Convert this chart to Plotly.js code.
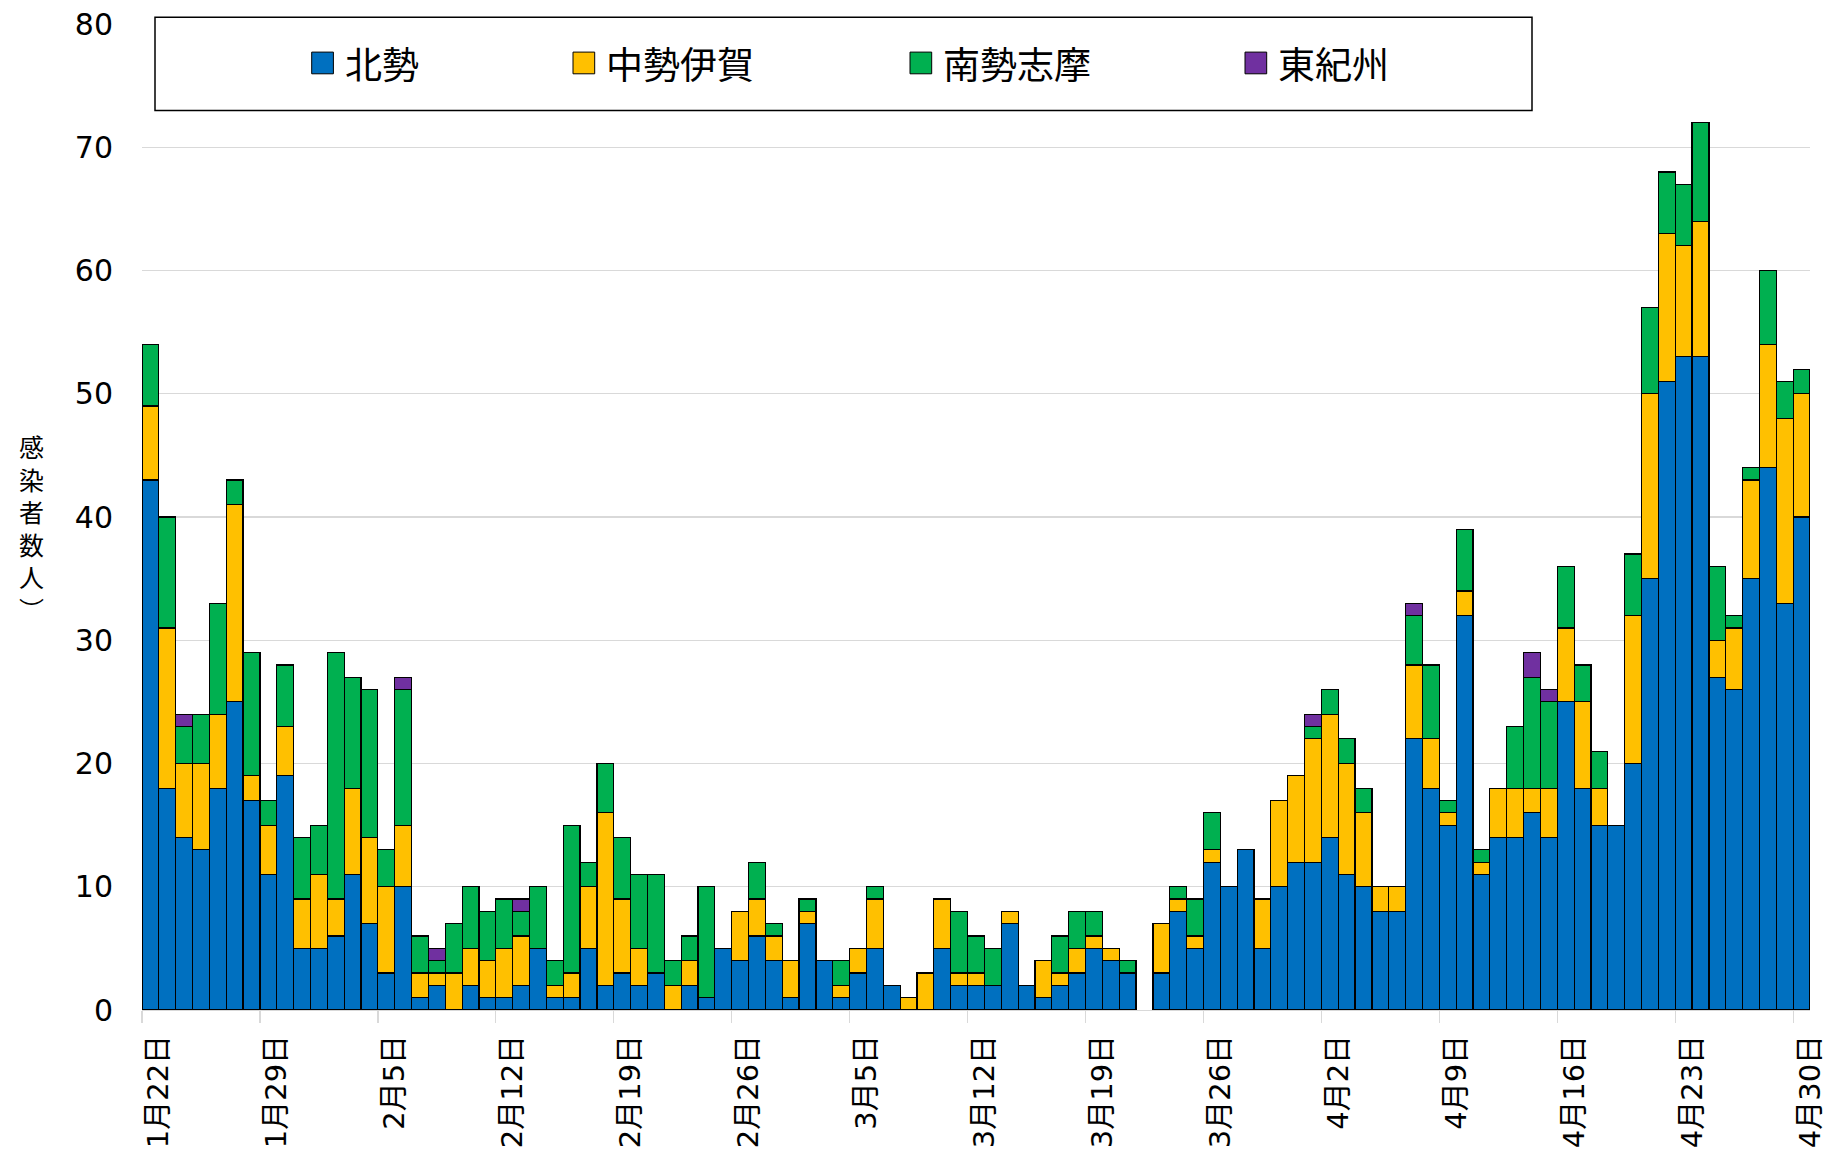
<!DOCTYPE html>
<html><head><meta charset="utf-8">
<script src="https://cdn.plot.ly/plotly-3.0.1.min.js"></script>
<style>html,body{margin:0;padding:0;background:#fff;}#chart{width:1841px;height:1161px;}</style>
</head><body><div id="chart"></div>
<script>
const dates = [
 '1月22日','1月23日','1月24日','1月25日','1月26日','1月27日','1月28日','1月29日','1月30日','1月31日',
 '2月1日','2月2日','2月3日','2月4日','2月5日','2月6日','2月7日','2月8日','2月9日','2月10日',
 '2月11日','2月12日','2月13日','2月14日','2月15日','2月16日','2月17日','2月18日','2月19日','2月20日',
 '2月21日','2月22日','2月23日','2月24日','2月25日','2月26日','2月27日','2月28日',
 '3月1日','3月2日','3月3日','3月4日','3月5日','3月6日','3月7日','3月8日','3月9日','3月10日',
 '3月11日','3月12日','3月13日','3月14日','3月15日','3月16日','3月17日','3月18日','3月19日','3月20日',
 '3月21日','3月22日','3月23日','3月24日','3月25日','3月26日','3月27日','3月28日','3月29日','3月30日','3月31日',
 '4月1日','4月2日','4月3日','4月4日','4月5日','4月6日','4月7日','4月8日','4月9日','4月10日',
 '4月11日','4月12日','4月13日','4月14日','4月15日','4月16日','4月17日','4月18日','4月19日','4月20日',
 '4月21日','4月22日','4月23日','4月24日','4月25日','4月26日','4月27日','4月28日','4月29日','4月30日'
];
const hokusei = [
 43,18,14,13,18,25,17,11,19,5,
 5,6,11,7,3,10,1,2,0,2,
 1,1,2,5,1,1,5,2,3,2,
 3,0,2,1,5,4,6,4,1,7,
 4,1,3,5,2,0,0,5,2,2,
 2,7,2,1,2,3,5,4,3,0,
 3,8,5,12,10,13,5,10,12,12,
 14,11,10,8,8,22,18,15,32,11,
 14,14,16,14,25,18,15,15,20,35,
 51,53,53,27,26,35,44,33,40
];
const chuseiIga = [
 6,13,6,7,6,16,2,4,4,4,
 6,3,7,7,7,5,2,1,3,3,
 3,4,4,0,1,2,5,14,6,3,
 0,2,2,0,0,4,3,2,3,1,
 0,1,2,4,0,1,3,4,1,1,
 0,1,0,3,1,2,1,1,0,0,
 4,1,1,1,0,0,4,7,7,10,
 10,9,6,2,2,6,4,1,2,1,
 4,4,2,4,6,7,3,0,12,15,
 12,9,11,3,5,8,10,15,10
];
const nanseiShima = [
 5,9,3,4,9,2,10,2,5,5,
 4,20,9,12,3,11,3,1,4,5,
 4,4,2,5,2,12,2,4,5,6,
 8,2,2,9,0,0,3,1,0,1,
 0,2,0,1,0,0,0,0,5,3,
 3,0,0,0,3,3,2,0,1,0,
 0,1,3,3,0,0,0,0,0,1,
 2,2,2,0,0,4,6,1,5,1,
 0,5,9,7,5,3,3,0,5,7,
 5,5,8,6,1,1,6,3,2
];
const higashiKishu = [
 0,0,1,0,0,0,0,0,0,0,
 0,0,0,0,0,1,0,1,0,0,
 0,0,1,0,0,0,0,0,0,0,
 0,0,0,0,0,0,0,0,0,0,
 0,0,0,0,0,0,0,0,0,0,
 0,0,0,0,0,0,0,0,0,0,
 0,0,0,0,0,0,0,0,0,1,
 0,0,0,0,0,1,0,0,0,0,
 0,0,2,1,0,0,0,0,0,0,
 0,0,0,0,0,0,0,0,0
];
const seriesNames = ['北勢','中勢伊賀','南勢志摩','東紀州'];
const seriesColors = ['#0070C0','#FFC000','#00B050','#7030A0'];
const tickDates = ['1月22日','1月29日','2月5日','2月12日','2月19日','2月26日','3月5日','3月12日','3月19日','3月26日','4月2日','4月9日','4月16日','4月23日','4月30日'];
const yTitleLines = ['感','染','者','数','人','︶'];

const FONT = "'DejaVu Sans', 'Noto Sans CJK JP', sans-serif";
const CJK = "'Noto Sans CJK JP', sans-serif";
const W = 1841, H = 1161, L = 142, R = 31, T = 24, B = 151;
const plotW = W - L - R, plotH = H - T - B;
const px = x => (x - L) / plotW;
const py = y => (H - B - y) / plotH;

const series = [hokusei, chuseiIga, nanseiShima, higashiKishu];
const traces = series.map((vals, i) => ({
  type: 'bar', x: dates, y: vals.map(v => v === 0 ? null : v), name: seriesNames[i],
  marker: {color: seriesColors[i], line: {color: '#000000', width: 1.2}},
  showlegend: false
}));

const tickvals = tickDates.map(d => dates.indexOf(d) - 0.5);

// legend (drawn as frame + swatches + labels)
const legendMarkerX = [311.7, 573, 910, 1245];
const shapes = [{
  type: 'rect', xref: 'paper', yref: 'paper', layer: 'above',
  x0: px(155), x1: px(1532), y0: py(110.5), y1: py(17.3),
  line: {color: '#000000', width: 1.5}, fillcolor: '#ffffff'
}];
const annotations = [];
seriesNames.forEach((n, i) => {
  const mx = legendMarkerX[i];
  shapes.push({type: 'rect', xref: 'paper', yref: 'paper', layer: 'above',
    x0: px(mx), x1: px(mx + 21.7), y0: py(73.8), y1: py(52.1),
    line: {color: '#000000', width: 1}, fillcolor: seriesColors[i]});
  annotations.push({xref: 'paper', yref: 'paper', x: px(mx + 31), y: py(63),
    xanchor: 'left', yanchor: 'middle', showarrow: false, text: n,
    font: {family: CJK, size: 37, color: '#000000'}});
});
// vertical (stacked) axis title
annotations.push({xref: 'paper', yref: 'paper', x: px(32), y: py(527),
  xanchor: 'center', yanchor: 'middle', showarrow: false, align: 'center',
  text: yTitleLines.join('<br>'),
  font: {family: CJK, size: 25, color: '#000000'}});

const layout = {
  width: W, height: H, margin: {l: L, r: R, t: T, b: B, pad: 0},
  paper_bgcolor: '#ffffff', plot_bgcolor: '#ffffff',
  barmode: 'stack', bargap: 0,
  font: {family: FONT, size: 29, color: '#000000'},
  xaxis: {type: 'category', range: [-0.5, dates.length - 0.5], tickmode: 'array',
    tickvals: tickvals, ticktext: tickDates, tickangle: -90,
    ticks: 'outside', ticklen: 12, tickwidth: 1.3, tickcolor: '#d9d9d9',
    showline: true, linecolor: '#d9d9d9', linewidth: 1.3, showgrid: false, zeroline: false,
    ticklabelshift: 17, ticklabelstandoff: 0, tickfont: {family: FONT, size: 29, color: '#000000'}},
  yaxis: {range: [0, 80], tick0: 0, dtick: 10, showgrid: true, gridcolor: '#d9d9d9', gridwidth: 1.3,
    showline: false, ticks: '', zeroline: false, ticklabelstandoff: 28,
    tickfont: {family: FONT, size: 30, color: '#000000'}},
  shapes: shapes, annotations: annotations
};
Plotly.newPlot('chart', traces, layout, {staticPlot: true, displayModeBar: false});
</script></body></html>
